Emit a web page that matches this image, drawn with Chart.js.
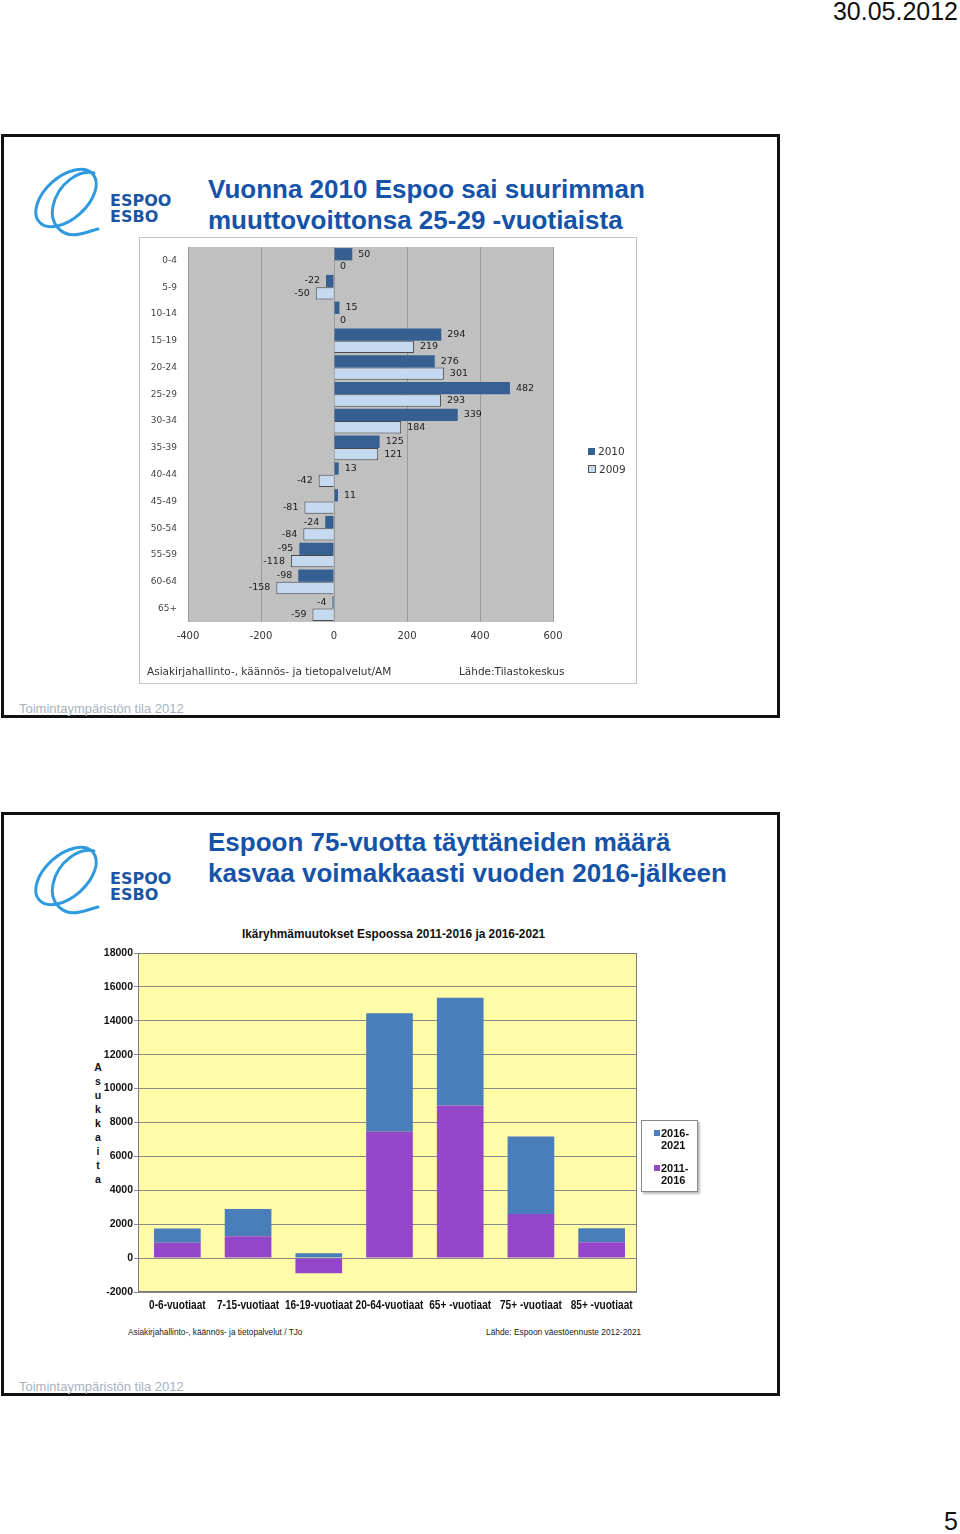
<!DOCTYPE html>
<html>
<head>
<meta charset="utf-8">
<script src="https://cdn.jsdelivr.net/npm/chart.js@4.4.1/dist/chart.umd.min.js"></script>
<style>
  html, body { margin:0; padding:0; background:#fff; }
  body { width:960px; height:1534px; position:relative; overflow:hidden; font-family: "Liberation Sans", Arial, sans-serif; }
  .abs { position:absolute; }
  .frame { position:absolute; left:1px; width:773px; height:578px; border:3px solid #111; }
  .title { position:absolute; left:208px; color:#1553a8; font-weight:bold; font-size:26px; line-height:31px; white-space:nowrap; }
  .logo-text { position:absolute; left:110px; color:#1d55a5; font-family:"DejaVu Sans", sans-serif; font-weight:bold; font-size:16px; line-height:16px; letter-spacing:0px; }
  .foot { position:absolute; left:19px; color:#a8b2c0; font-size:13px; white-space:nowrap; }
  .cond { transform-origin:0 0; white-space:nowrap; }
</style>
</head>
<body>
<script>
// ---------- DATA ----------
// Chart 1: net migration by age group, Espoo
const ageGroups = ['0-4','5-9','10-14','15-19','20-24','25-29','30-34','35-39','40-44','45-49','50-54','55-59','60-64','65+'];
const net2010 = [50, -22, 15, 294, 276, 482, 339, 125, 13, 11, -24, -95, -98, -4];
const net2009 = [0, -50, 0, 219, 301, 293, 184, 121, -42, -81, -84, -118, -158, -59];
const xTicks1 = [-400, -200, 0, 200, 400, 600];

// Chart 2: age group changes 2011-2016 and 2016-2021
const groups2 = ['0-6-vuotiaat','7-15-vuotiaat','16-19-vuotiaat','20-64-vuotiaat','65+ -vuotiaat','75+ -vuotiaat','85+ -vuotiaat'];
const change2011_2016 = [900, 1290, -900, 7450, 9000, 2600, 930];
const change2016_2021 = [850, 1610, 280, 7000, 6360, 4580, 830];
const yTicks2 = [-2000, 0, 2000, 4000, 6000, 8000, 10000, 12000, 14000, 16000, 18000];
</script>

<div class="abs" style="right:2px; top:-3px; font-size:25px; color:#111;">30.05.2012</div>
<div class="abs" style="right:2px; top:1507px; font-size:25px; color:#111;">5</div>

<!-- Frame 1 -->
<div class="frame" style="top:134px;"></div>
<svg class="abs" style="left:28px; top:161px;" width="76" height="80" viewBox="0 0 76 80">
  <g fill="none" stroke="#2f9ae0" stroke-width="3" stroke-linecap="round">
    <ellipse cx="38" cy="37" rx="36" ry="21" transform="rotate(-42 38 37)"/>
    <path d="M66 12 C 52 8, 30 22, 25 45 C 21 64, 35 77, 52 73 C 60 71, 66 69, 70 68"/>
  </g>
</svg>
<div class="logo-text" style="top:193px;">ESPOO<br>ESBO</div>
<div class="title" style="top:174px;">Vuonna 2010 Espoo sai suurimman<br>muuttovoittonsa 25-29 -vuotiaista</div>

<div class="abs" style="left:139px; top:237px; width:496px; height:445px; border:1px solid #c4c4c4; background:#fff;"></div>
<canvas id="c1" class="abs" style="left:139px; top:237px;" width="498" height="447"></canvas>
<div class="abs" style="left:588px; top:442px; font-family:'DejaVu Sans',sans-serif; font-size:10.5px; color:#333; line-height:18px;">
  <div><span style="display:inline-block;width:7px;height:7px;background:#376092;margin-right:3px;"></span>2010</div>
  <div><span style="display:inline-block;width:6px;height:6px;background:#c5d9f1;border:1px solid #555;margin-right:3px;"></span>2009</div>
</div>
<div class="abs" style="left:147px; top:665px; font-family:'DejaVu Sans',sans-serif; font-size:10.5px; color:#333; white-space:nowrap;">Asiakirjahallinto-, käännös- ja tietopalvelut/AM</div>
<div class="abs" style="left:459px; top:665px; font-family:'DejaVu Sans',sans-serif; font-size:10.5px; color:#333; white-space:nowrap;">Lähde:Tilastokeskus</div>
<div class="foot" style="top:701px;">Toimintaympäristön tila 2012</div>

<!-- Frame 2 -->
<div class="frame" style="top:812px;"></div>
<svg class="abs" style="left:28px; top:839px;" width="76" height="80" viewBox="0 0 76 80">
  <g fill="none" stroke="#2f9ae0" stroke-width="3" stroke-linecap="round">
    <ellipse cx="38" cy="37" rx="36" ry="21" transform="rotate(-42 38 37)"/>
    <path d="M66 12 C 52 8, 30 22, 25 45 C 21 64, 35 77, 52 73 C 60 71, 66 69, 70 68"/>
  </g>
</svg>
<div class="logo-text" style="top:871px;">ESPOO<br>ESBO</div>
<div class="title" style="top:827px;">Espoon 75-vuotta täyttäneiden määrä<br>kasvaa voimakkaasti vuoden 2016-jälkeen</div>

<div class="abs cond" style="left:242px; top:926px; font-size:13px; font-weight:bold; color:#111; transform:scaleX(0.91);">Ikäryhmämuutokset Espoossa 2011-2016 ja 2016-2021</div>
<div class="abs" style="left:93px; top:1060px; width:10px; text-align:center; font-size:10.5px; font-weight:bold; line-height:14px; color:#111;">A<br>s<br>u<br>k<br>k<br>a<br>i<br>t<br>a</div>
<canvas id="c2" class="abs" style="left:80px; top:940px;" width="570" height="380"></canvas>
<div class="abs" style="left:641px; top:1120px; width:55px; height:70px; border:1px solid #888; background:#fff; box-shadow:2px 2px 2px #bbb; font-size:11px; font-weight:bold; line-height:12px; color:#111;">
  <div style="position:absolute; left:19px; top:6px;"><span style="position:absolute;left:-7px;top:3px;width:6px;height:6px;background:#4a7ebb;"></span>2016-<br>2021</div>
  <div style="position:absolute; left:19px; top:41px;"><span style="position:absolute;left:-7px;top:3px;width:6px;height:6px;background:#9446c8;"></span>2011-<br>2016</div>
</div>
<div class="abs cond" style="left:128px; top:1326px; font-size:9.5px; color:#222; transform:scaleX(0.87);">Asiakirjahallinto-, käännös- ja tietopalvelut / TJo</div>
<div class="abs cond" style="left:486px; top:1326px; font-size:9.5px; color:#222; transform:scaleX(0.88);">Lähde: Espoon väestöennuste 2012-2021</div>
<div class="foot" style="top:1379px;">Toimintaympäristön tila 2012</div>

<script>
const plotBg = {
  id: 'plotBg',
  beforeDraw(chart, args, opts) {
    const {ctx, chartArea: a} = chart;
    const ext = opts.extendLeft || 0;
    ctx.save();
    ctx.fillStyle = opts.color;
    ctx.fillRect(a.left - ext, a.top, a.right - a.left + ext, a.bottom - a.top);
    ctx.restore();
  },
  afterDatasetsDraw(chart, args, opts) {
    if (!opts.border) return;
    const {ctx, chartArea: a} = chart;
    const ext = opts.extendLeft || 0;
    ctx.save();
    ctx.strokeStyle = opts.border;
    ctx.lineWidth = 1;
    ctx.strokeRect(a.left - ext + 0.5, a.top + 0.5, a.right - a.left + ext - 1, a.bottom - a.top - 1);
    ctx.restore();
  }
};

const valueLabels = {
  id: 'valueLabels',
  afterDatasetsDraw(chart) {
    const ctx = chart.ctx;
    ctx.save();
    ctx.font = '9.5px "DejaVu Sans", sans-serif';
    ctx.fillStyle = '#1a1a1a';
    ctx.textBaseline = 'middle';
    chart.data.datasets.forEach((ds, di) => {
      chart.getDatasetMeta(di).data.forEach((bar, i) => {
        const v = ds.data[i];
        if (v < 0) { ctx.textAlign = 'right'; ctx.fillText(String(v), bar.x - 6, bar.y); }
        else { ctx.textAlign = 'left'; ctx.fillText(String(v), bar.x + 6, bar.y); }
      });
    });
    ctx.restore();
  }
};

const condensedXLabels = {
  id: 'condensedXLabels',
  afterDraw(chart) {
    const s = chart.scales.x, ctx = chart.ctx;
    ctx.save();
    ctx.font = 'bold 12px "Liberation Sans", Arial, sans-serif';
    ctx.fillStyle = '#111';
    ctx.textAlign = 'center';
    ctx.textBaseline = 'middle';
    chart.data.labels.forEach((lab, i) => {
      const x = s.getPixelForTick(i);
      ctx.save();
      ctx.translate(x, chart.chartArea.bottom + 14);
      ctx.scale(0.84, 1);
      ctx.fillText(lab, 0, 0);
      ctx.restore();
    });
    ctx.restore();
  }
};

new Chart(document.getElementById('c1'), {
  type: 'bar',
  data: {
    labels: ageGroups,
    datasets: [
      { label: '2010', data: net2010, backgroundColor: '#376092', borderWidth: 0 },
      { label: '2009', data: net2009, backgroundColor: '#c5d9f1', borderColor: '#4a4a4a', borderWidth: 1 }
    ]
  },
  options: {
    indexAxis: 'y',
    responsive: false,
    animation: false,
    layout: { padding: { top: 10, right: 84, left: 0, bottom: 0 } },
    datasets: { bar: { categoryPercentage: 0.92, barPercentage: 1.0 } },
    plugins: { legend: { display: false }, tooltip: { enabled: false }, plotBg: { color: '#c0c0c0' } },
    scales: {
      x: {
        min: -400, max: 600,
        afterFit(s) { s.height = 62; },
        afterBuildTicks(s) { s.ticks = xTicks1.map(v => ({ value: v })); },
        grid: { color: '#9a9a9a', drawTicks: false },
        border: { display: false },
        ticks: { padding: 8, color: '#333', font: { family: '"DejaVu Sans", sans-serif', size: 10 } }
      },
      y: {
        afterFit(s) { s.width = 49; },
        grid: { display: true, drawOnChartArea: false, drawTicks: true, tickLength: 11, tickColor: 'rgba(0,0,0,0)', color: 'rgba(0,0,0,0)' },
        border: { display: false },
        ticks: { padding: 0, color: '#444', font: { family: '"DejaVu Sans", sans-serif', size: 9 } }
      }
    }
  },
  plugins: [plotBg, valueLabels]
});

new Chart(document.getElementById('c2'), {
  type: 'bar',
  data: {
    labels: groups2,
    datasets: [
      { label: '2011-2016', data: change2011_2016, backgroundColor: '#9446c8', borderWidth: 0 },
      { label: '2016-2021', data: change2016_2021, backgroundColor: '#4a7ebb', borderWidth: 0 }
    ]
  },
  options: {
    responsive: false,
    animation: false,
    layout: { padding: { top: 13, right: 13, left: 0, bottom: 0 } },
    datasets: { bar: { categoryPercentage: 1.0, barPercentage: 0.66 } },
    plugins: { legend: { display: false }, tooltip: { enabled: false }, plotBg: { color: '#fffba8', border: '#7a7a7a', extendLeft: 4 } },
    scales: {
      x: {
        stacked: true,
        afterFit(s) { s.height = 28; },
        grid: { display: false, drawTicks: false },
        border: { display: false },
        ticks: { display: false }
      },
      y: {
        stacked: true,
        min: -2000, max: 18000,
        afterFit(s) { s.width = 62; },
        afterBuildTicks(s) { s.ticks = yTicks2.map(v => ({ value: v })); },
        grid: { color: '#8a8a8a', tickLength: 8 },
        border: { display: false },
        ticks: { padding: 1, color: '#111', callback: v => String(v),
          font: { family: '"Liberation Sans", Arial, sans-serif', size: 10.5, weight: 'bold' } }
      }
    }
  },
  plugins: [plotBg, condensedXLabels]
});
</script>
</body>
</html>
